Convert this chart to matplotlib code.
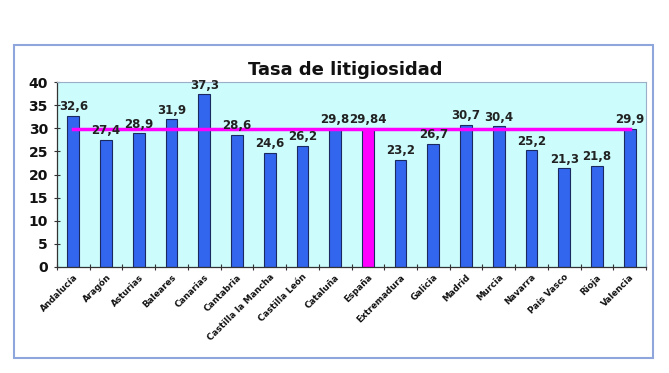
import matplotlib
matplotlib.use("Agg")
import matplotlib.pyplot as plt
from matplotlib.patches import Rectangle

categories = ["Andalucía", "Aragón", "Asturias", "Baleares", "Canarias", "Cantabria",
              "Castilla la Mancha", "Castilla León", "Cataluña", "España", "Extremadura",
              "Galicia", "Madrid", "Murcia", "Navarra", "País Vasco", "Rioja", "Valencia"]
values = [32.6, 27.4, 28.9, 31.9, 37.3, 28.6, 24.6, 26.2, 29.8, 29.84, 23.2,
          26.7, 30.7, 30.4, 25.2, 21.3, 21.8, 29.9]
labels = ["32,6", "27,4", "28,9", "31,9", "37,3", "28,6", "24,6", "26,2", "29,8", "29,84",
          "23,2", "26,7", "30,7", "30,4", "25,2", "21,3", "21,8", "29,9"]
spain_avg = 29.84
title = "Tasa de litigiosidad"

W, H = 669, 373
fig = plt.figure(figsize=(W / 100, H / 100), dpi=100)
fig.patch.set_facecolor("white")

# outer frame
fig.patches.append(Rectangle((14 / W, 1 - 358 / H), (653 - 14) / W, (358 - 45) / H,
                             transform=fig.transFigure, fill=False,
                             edgecolor="#8fa6dc", linewidth=1.5))

ax = fig.add_axes([57 / W, 1 - 267 / H, (646 - 57) / W, (267 - 82) / H])
ax.set_facecolor("#ccfcfc")

n = len(categories)
x = list(range(n))
colors = ["#ff00ff" if c == "España" else "#3366ee" for c in categories]
bars = ax.bar(x, values, width=0.36, color=colors, edgecolor="#1a2a60", linewidth=0.8, zorder=2)

ax.plot([x[0], x[-1]], [spain_avg, spain_avg], color="#ff00ff", linewidth=2.5, zorder=3)

for xi, v, lab in zip(x, values, labels):
    ax.text(xi, v + 0.6, lab, ha="center", va="bottom", fontsize=8.5,
            fontweight="bold", color="#222222", zorder=4)

ax.set_xlim(-0.5, n - 0.5)
ax.set_ylim(0, 40)
ax.set_yticks(range(0, 41, 5))
ax.set_yticklabels([str(t) for t in range(0, 41, 5)], fontsize=10, fontweight="bold", color="#111111")
ax.set_xticks([i + 0.5 for i in range(-1, n)], minor=False)
ax.set_xticklabels([""] * (n + 1))
ax.set_xticks(x, minor=True)
ax.set_xticklabels(categories, minor=True, rotation=45, ha="right", rotation_mode="anchor",
                   fontsize=6.3, fontweight="bold", color="#111111")
ax.tick_params(axis="x", which="minor", length=0, pad=4)
ax.tick_params(axis="x", which="major", length=4, direction="inout", color="#333333")
ax.tick_params(axis="y", length=5, direction="inout", color="#333333", pad=4)

for s in ["top", "right"]:
    ax.spines[s].set_color("#9ab0c8")
    ax.spines[s].set_linewidth(0.8)
for s in ["left", "bottom"]:
    ax.spines[s].set_color("#333333")
    ax.spines[s].set_linewidth(0.9)

fig.text(345 / W, 1 - 70 / H, title, ha="center", va="center", fontsize=13,
         fontweight="bold", color="#111111")

fig.savefig("out.png", dpi=100)
